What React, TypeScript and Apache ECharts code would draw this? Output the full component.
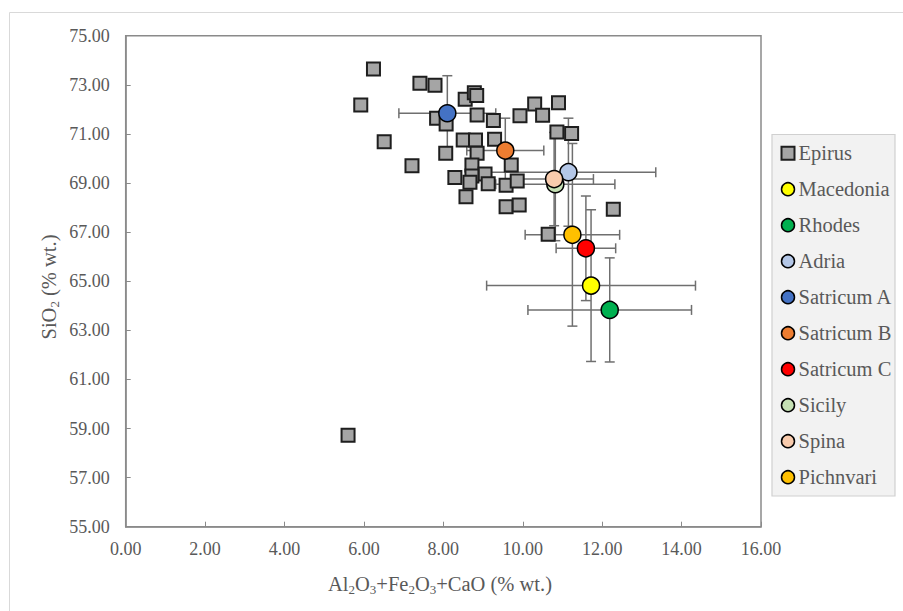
import React, { useEffect, useRef } from "react";
import * as echarts from "echarts";

// Epirus samples (Al2O3+Fe2O3+CaO, SiO2)
const epirusX = [6.24, 7.41, 7.79, 5.92, 8.55, 8.78, 8.84, 10.30, 10.90, 9.93, 10.50, 8.85, 9.26, 7.83, 8.07, 10.86, 11.23, 6.51, 8.50, 8.81, 9.29, 8.06, 8.85, 7.21, 8.72, 9.71, 9.05, 8.29, 8.72, 8.67, 9.13, 9.58, 9.86, 8.57, 9.58, 9.91, 12.28, 10.64, 5.60];
const epirusY = [73.64, 73.06, 72.98, 72.18, 72.41, 72.68, 72.56, 72.22, 72.27, 71.74, 71.76, 71.77, 71.55, 71.64, 71.40, 71.08, 71.02, 70.68, 70.75, 70.75, 70.78, 70.21, 70.21, 69.70, 69.73, 69.73, 69.37, 69.22, 69.29, 69.03, 68.97, 68.91, 69.08, 68.44, 68.03, 68.10, 67.93, 66.91, 58.72];

// Mean values with standard deviations for the other groups
const groupNames = ["Macedonia", "Rhodes", "Adria", "Satricum A", "Satricum B", "Satricum C", "Sicily", "Spina", "Pichnvari"];
const groupX = [11.72, 12.19, 11.15, 8.10, 9.56, 11.59, 10.82, 10.79, 11.25];
const groupY = [64.82, 63.83, 69.44, 71.84, 70.32, 66.34, 68.95, 69.16, 66.89];
const groupXErr = [2.63, 2.06, 2.20, 1.22, 0.97, 0.75, 1.50, 0.99, 1.19];
const groupYErr = [3.09, 2.12, 2.20, 1.53, 1.32, 2.13, 2.30, 1.90, 3.72];
const groupColors = ["#ffff00", "#00b050", "#b4c7e7", "#4472c4", "#ed7d31", "#ff0000", "#c5e0b4", "#f8cbad", "#ffc000"];

const xTicks = { min: 0, max: 16, interval: 2 };
const yTicks = { min: 55, max: 75, interval: 2 };

const FONT = "'Liberation Serif', 'Times New Roman', serif";
const TXT = "#595959";
const AXIS = "#8a8a8a";

export default function App() {
  const ref = useRef<HTMLDivElement>(null);
  useEffect(() => {
    if (!ref.current) return;
    const chart = echarts.init(ref.current, undefined, { renderer: "svg" });

    const errData = groupNames.map((_, i) => [groupX[i], groupY[i], groupXErr[i], groupYErr[i]]);

    const series: any[] = [
      {
        type: "custom",
        name: "errorbars",
        z: 1,
        silent: true,
        encode: { x: 0, y: 1 },
        data: errData,
        renderItem: (params: any, api: any) => {
          const x = api.value(0), y = api.value(1), xe = api.value(2), ye = api.value(3);
          const l = api.coord([x - xe, y]);
          const r = api.coord([x + xe, y]);
          const t = api.coord([x, y + ye]);
          const b = api.coord([x, y - ye]);
          const c = 5;
          const style = { stroke: "#6f6f6f", lineWidth: 1.5, fill: null };
          const ln = (x1: number, y1: number, x2: number, y2: number) => ({
            type: "line",
            shape: { x1, y1, x2, y2 },
            style,
          });
          return {
            type: "group",
            children: [
              ln(l[0], l[1], r[0], r[1]),
              ln(l[0], l[1] - c, l[0], l[1] + c),
              ln(r[0], r[1] - c, r[0], r[1] + c),
              ln(t[0], t[1], b[0], b[1]),
              ln(t[0] - c, t[1], t[0] + c, t[1]),
              ln(b[0] - c, b[1], b[0] + c, b[1]),
            ],
          };
        },
      },
      {
        type: "scatter",
        name: "Epirus",
        z: 2,
        symbol: "rect",
        symbolSize: 13,
        itemStyle: { color: "#a5a5a5", borderColor: "#1e1e1e", borderWidth: 2, opacity: 1 },
        data: epirusX.map((x, i) => [x, epirusY[i]]),
      },
      ...groupNames.map((n, i) => ({
        type: "scatter",
        name: n,
        z: 3,
        symbol: "circle",
        symbolSize: 17,
        itemStyle: { color: groupColors[i], borderColor: "#000", borderWidth: 1.5, opacity: 1 },
        data: [[groupX[i], groupY[i]]],
      })),
    ];

    const legendData = [
      { name: "Epirus", icon: "rect", itemStyle: { color: "#a5a5a5", borderColor: "#1e1e1e", borderWidth: 2 } },
      ...groupNames.map((n, i) => ({
        name: n,
        icon: "circle",
        itemStyle: { color: groupColors[i], borderColor: "#000", borderWidth: 1.5 },
      })),
    ];

    chart.setOption({
      animation: false,
      backgroundColor: "#ffffff",
      grid: {
        left: 125.7,
        top: 35.7,
        width: 635.3,
        height: 491,
        show: true,
        borderColor: AXIS,
        borderWidth: 1.5,
        backgroundColor: "transparent",
      },
      xAxis: {
        type: "value",
        min: xTicks.min,
        max: xTicks.max,
        interval: xTicks.interval,
        splitLine: { show: false },
        axisLine: { show: true, lineStyle: { color: AXIS, width: 1.5 } },
        axisTick: { show: true, inside: true, length: 5, lineStyle: { color: AXIS, width: 1 } },
        axisLabel: {
          margin: 13,
          color: TXT,
          fontFamily: FONT,
          fontSize: 18,
          formatter: (v: number) => v.toFixed(2),
        },
      },
      yAxis: {
        type: "value",
        min: yTicks.min,
        max: yTicks.max,
        interval: yTicks.interval,
        splitLine: { show: false },
        axisLine: { show: true, lineStyle: { color: AXIS, width: 1.5 } },
        axisTick: { show: true, inside: true, length: 5, lineStyle: { color: AXIS, width: 1 } },
        axisLabel: {
          margin: 16,
          color: TXT,
          fontFamily: FONT,
          fontSize: 18,
          formatter: (v: number) => v.toFixed(2),
        },
      },
      legend: {
        orient: "vertical",
        left: 780.5,
        top: 142.7,
        padding: 0,
        itemGap: 15,
        itemWidth: 13,
        itemHeight: 13,
        selectedMode: false,
        textStyle: { color: TXT, fontFamily: "Liberation Serif", fontSize: 20.5, lineHeight: 20, padding: [0, 0, 0, -1] },
        data: legendData,
      },
      graphic: [
        {
          type: "rect",
          silent: true,
          z: -10,
          shape: { x: 9.5, y: 12.5, width: 1000, height: 1000 },
          style: { fill: "none", stroke: "#d9d9d9", lineWidth: 1 },
        },
        {
          type: "rect",
          silent: true,
          z: -5,
          shape: { x: 772, y: 134.5, width: 123, height: 361.5 },
          style: { fill: "#f2f2f2", stroke: "#d0d0d0", lineWidth: 1.2 },
        },
        {
          type: "text",
          silent: true,
          x: 440,
          y: 584,
          style: {
            text: "Al{s|2}O{s|3}+Fe{s|2}O{s|3}+CaO (% wt.)",
            fill: TXT,
            fontFamily: FONT,
            fontSize: 20.5,
            lineHeight: 24,
            align: "center",
            verticalAlign: "middle",
            rich: {
              s: { fontSize: 13, lineHeight: 12, verticalAlign: "bottom", fill: TXT, fontFamily: FONT },
            },
          },
        },
        {
          type: "text",
          silent: true,
          x: 49,
          y: 287,
          rotation: Math.PI / 2,
          style: {
            text: "SiO{s|2} (% wt.)",
            fill: TXT,
            fontFamily: FONT,
            fontSize: 20.5,
            lineHeight: 24,
            align: "center",
            verticalAlign: "middle",
            rich: {
              s: { fontSize: 13, lineHeight: 12, verticalAlign: "bottom", fill: TXT, fontFamily: FONT },
            },
          },
        },
      ],
      series,
    });

    return () => chart.dispose();
  }, []);

  return (
    <div
      ref={ref}
      style={{ position: "absolute", left: 0, top: 0, width: 903, height: 611 }}
    />
  );
}
